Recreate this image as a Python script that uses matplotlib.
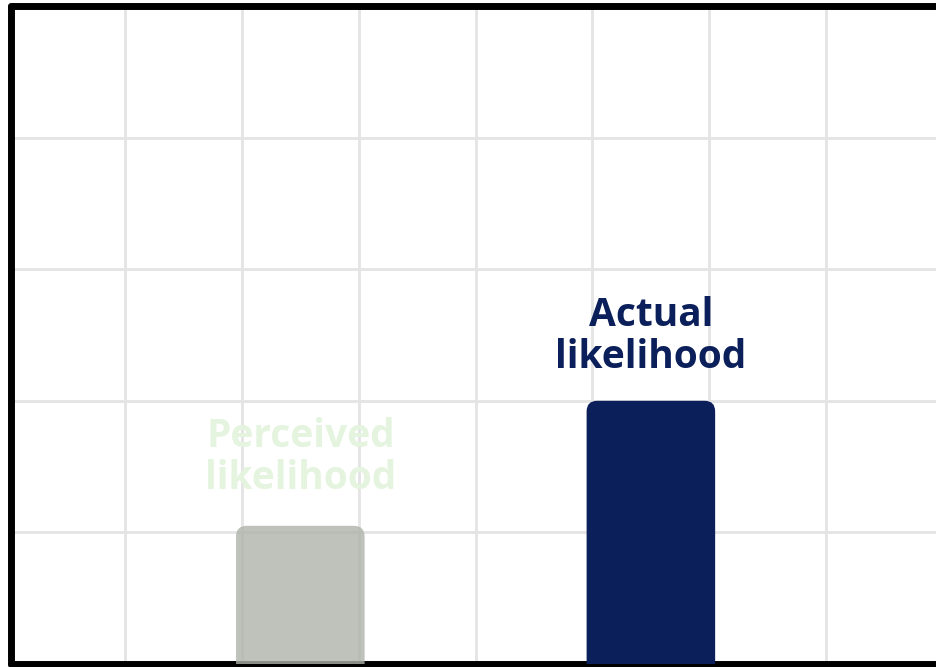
import matplotlib
matplotlib.use("Agg")
import matplotlib.pyplot as plt
from matplotlib.patches import FancyBboxPatch

# data
labels = ["Perceived\nlikelihood", "Actual\nlikelihood"]
values = [1.05, 2.0]
positions = [2.5, 5.5]
bar_colors = ["#aeb3aa", "#0b1f5a"]
bar_alphas = [0.8, 1.0]
label_colors = ["#e4f4df", "#0b1f5a"]
label_offsets = [0.21, 0.18]

plt.rcParams['font.family'] = ['Open Sans', 'DejaVu Sans']

fig = plt.figure(figsize=(9.36, 6.67), dpi=100)
W, H = 936, 667
ax = fig.add_axes([11 / W, 3 / H, 1 - 11 / W, 658 / H])

ax.set_xlim(0.024, 7.94)
ax.set_ylim(0, 5)
ax.set_xticks(range(1, 8))
ax.set_yticks(range(1, 5))
ax.tick_params(length=0, labelbottom=False, labelleft=False)
ax.grid(True, color="#e4e4e4", linewidth=2.0)
ax.set_axisbelow(True)

for side in ["left", "top", "bottom"]:
    ax.spines[side].set_linewidth(5)
    ax.spines[side].set_color("black")
    ax.spines[side].set_capstyle("round")
ax.spines["right"].set_visible(False)

bars = ax.bar(positions, values, width=1.1, color=bar_colors)
for bar, alpha in zip(bars, bar_alphas):
    x, y = bar.get_x(), bar.get_y()
    w, h = bar.get_width(), bar.get_height()
    rounded = FancyBboxPatch((x, y - 0.3), w, h + 0.3,
                             boxstyle="round,pad=0,rounding_size=0.09",
                             mutation_aspect=0.9,
                             facecolor=bar.get_facecolor(), edgecolor="none",
                             alpha=alpha, zorder=3, clip_on=True)
    ax.add_patch(rounded)
    bar.remove()

for pos, val, lab, col, off in zip(positions, values, labels, label_colors, label_offsets):
    ax.text(pos, val + off, lab, ha="center", va="bottom", color=col,
            fontsize=28, fontweight="bold", linespacing=1.1, zorder=4)

fig.savefig("out.png", dpi=100)
